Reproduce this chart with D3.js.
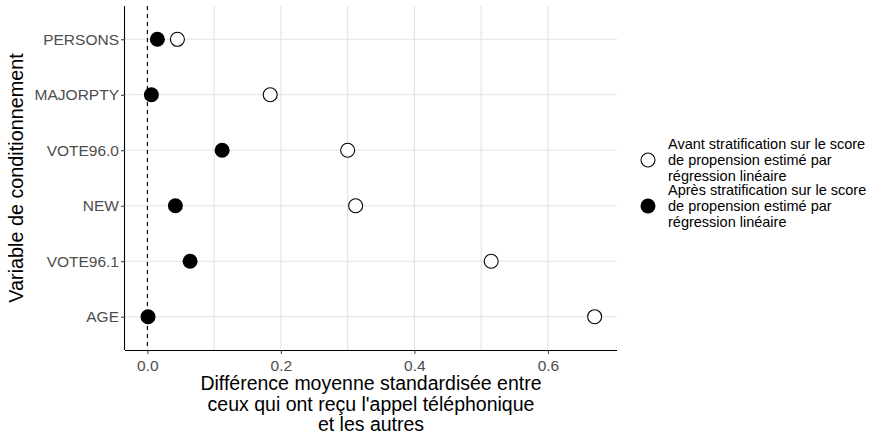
<!DOCTYPE html>
<html>
<head>
<meta charset="utf-8">
<script src="https://cdn.jsdelivr.net/npm/d3@7"></script>
<style>
  html, body { margin: 0; padding: 0; background: #fff; }
  svg text { font-family: "Liberation Sans", Arial, Helvetica, sans-serif; }
</style>
</head>
<body>
<div id="chart"></div>
<script>
"use strict";

/* ── Data ── */
const variables   = ["PERSONS", "MAJORPTY", "VOTE96.0", "NEW", "VOTE96.1", "AGE"];
const avantValues = [0.045, 0.184, 0.300, 0.312, 0.515, 0.670];
const apresValues = [0.015, 0.006, 0.112, 0.042, 0.064, 0.001];
const xTicks      = [0, 0.2, 0.4, 0.6];
const gridTicks   = [0, 0.1, 0.2, 0.3, 0.4, 0.5, 0.6];
const legendLabels = [
  ["Avant stratification sur le score", "de propension estimé par", "régression linéaire"],
  ["Après stratification sur le score", "de propension estimé par", "régression linéaire"]
];
const xTitle = [
  "Différence moyenne standardisée entre",
  "ceux qui ont reçu l'appel téléphonique",
  "et les autres"
];
const yTitle = "Variable de conditionnement";

/* ── Dimensions ── */
const W = 873, H = 433;
const panel = { left: 125, right: 617, top: 6, bottom: 350 };

const svg = d3.select("#chart").append("svg")
  .attr("width", W).attr("height", H);

/* ── Scales (ggplot-like 5% / 0.6 expansion) ── */
const xMin = 0, xMax = d3.max(avantValues);
const pad = (xMax - xMin) * 0.05;
const x = d3.scaleLinear()
  .domain([xMin - pad, xMax + pad])
  .range([panel.left, panel.right]);

const y = d3.scalePoint()
  .domain(variables)
  .range([panel.top, panel.bottom])
  .padding(0.6);

/* ── Grid ── */
const grid = svg.append("g");
grid.selectAll(".vgrid")
  .data(gridTicks)
  .join("line")
  .attr("x1", d => x(d)).attr("x2", d => x(d))
  .attr("y1", panel.top).attr("y2", panel.bottom)
  .attr("stroke", "#e3e3e3").attr("stroke-width", 1.1);
grid.selectAll(".hgrid")
  .data(variables)
  .join("line")
  .attr("x1", panel.left).attr("x2", panel.right)
  .attr("y1", d => y(d)).attr("y2", d => y(d))
  .attr("stroke", "#e3e3e3").attr("stroke-width", 1.1);

/* ── Zero line ── */
svg.append("line")
  .attr("x1", x(0)).attr("x2", x(0))
  .attr("y1", panel.top).attr("y2", panel.bottom)
  .attr("stroke", "#000").attr("stroke-width", 1.1)
  .attr("stroke-dasharray", "4,4");

/* ── Axes ── */
svg.append("g")
  .attr("transform", `translate(0,${panel.bottom})`)
  .call(d3.axisBottom(x).tickValues(xTicks).tickFormat(d3.format(".1f")).tickSize(4).tickSizeOuter(0))
  .call(g => {
    g.select(".domain").attr("stroke", "#000").attr("stroke-width", 1.1)
      .attr("d", `M${panel.left},0.5H${panel.right}`);
    g.selectAll(".tick line").attr("stroke", "#333");
    g.selectAll(".tick text")
      .attr("fill", "#4d4d4d").attr("font-size", "15.5px")
      .attr("font-family", "Liberation Sans, Arial, sans-serif")
      .attr("dy", "0.9em");
  });

svg.append("g")
  .attr("transform", `translate(${panel.left},0)`)
  .call(d3.axisLeft(y).tickSize(4).tickSizeOuter(0))
  .call(g => {
    g.select(".domain").attr("stroke", "#000").attr("stroke-width", 1.1)
      .attr("d", `M-0.5,${panel.top}V${panel.bottom}`);
    g.selectAll(".tick line").attr("stroke", "#333");
    g.selectAll(".tick text")
      .attr("fill", "#4d4d4d").attr("font-size", "15.5px")
      .attr("font-family", "Liberation Sans, Arial, sans-serif")
      .attr("x", -6);
  });

/* ── Points ── */
const rows = variables.map((v, i) => ({ v, avant: avantValues[i], apres: apresValues[i] }));

svg.selectAll(".pt-avant")
  .data(rows)
  .join("circle")
  .attr("cx", d => x(d.avant)).attr("cy", d => y(d.v))
  .attr("r", 7)
  .attr("fill", "#fff").attr("stroke", "#000").attr("stroke-width", 1.1);

svg.selectAll(".pt-apres")
  .data(rows)
  .join("circle")
  .attr("cx", d => x(d.apres)).attr("cy", d => y(d.v))
  .attr("r", 7.5)
  .attr("fill", "#000");

/* ── Axis titles ── */
svg.append("text")
  .attr("text-anchor", "middle")
  .attr("font-size", "19.5px").attr("fill", "#000")
  .selectAll("tspan")
  .data(xTitle)
  .join("tspan")
  .attr("x", (panel.left + panel.right) / 2)
  .attr("y", (d, i) => 390 + i * 20.5)
  .text(d => d);

svg.append("text")
  .attr("transform", `translate(23,${(panel.top + panel.bottom) / 2}) rotate(-90)`)
  .attr("text-anchor", "middle")
  .attr("font-size", "19.8px").attr("fill", "#000")
  .text(yTitle);

/* ── Legend ── */
const legend = svg.append("g");
const legendCy = [160, 206];
legendLabels.forEach((lines, i) => {
  legend.append("circle")
    .attr("cx", 648).attr("cy", legendCy[i])
    .attr("r", i === 0 ? 7 : 7.5)
    .attr("fill", i === 0 ? "#fff" : "#000")
    .attr("stroke", i === 0 ? "#000" : "none")
    .attr("stroke-width", 1.1);
  legend.append("text")
    .attr("font-size", "14.5px").attr("fill", "#000")
    .selectAll("tspan")
    .data(lines)
    .join("tspan")
    .attr("x", 668)
    .attr("y", (d, j) => legendCy[i] - 11 + j * 16)
    .text(d => d);
});
</script>
</body>
</html>
